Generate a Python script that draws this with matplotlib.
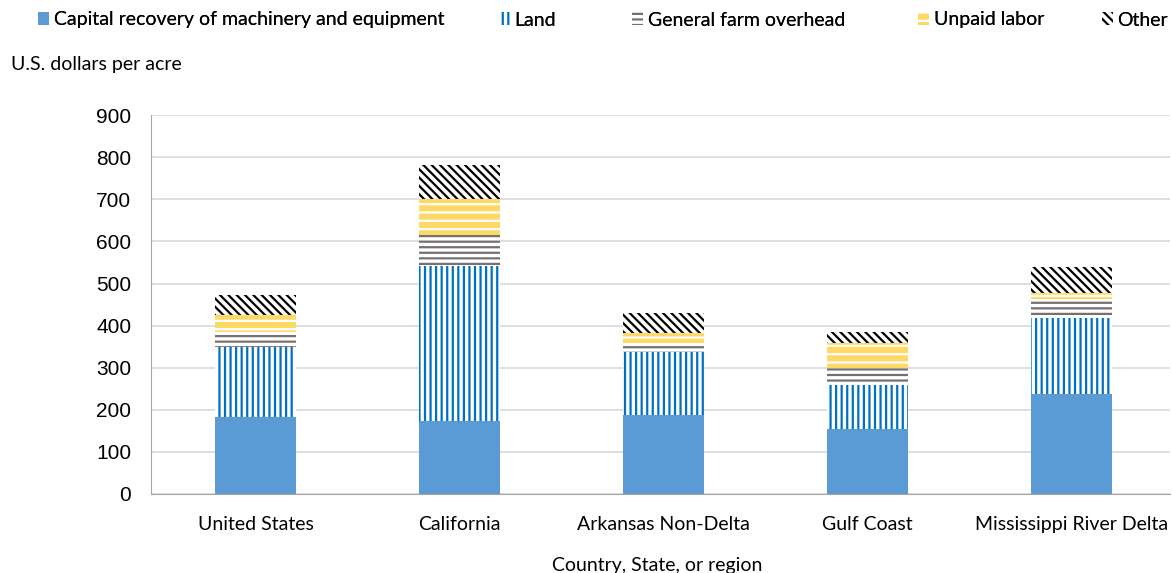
import numpy as np
import matplotlib.pyplot as plt
from matplotlib.patches import Patch

# Cost components, U.S. dollars per acre
regions = ["United States", "California", "Arkansas Non-Delta", "Gulf Coast", "Mississippi River Delta"]
capital = [183, 173, 188, 154, 237]
land = [166, 368, 149, 105, 181]
overhead = [36, 74, 22, 40, 45]
unpaid = [40, 85, 23, 59, 14]
other = [47, 81, 48, 27, 62]

series = [
    ("Capital recovery of machinery and equipment", capital, "#5B9BD5", "#5B9BD5", None),
    ("Land", land, "white", "#0070C0", "|||"),
    ("General farm overhead", overhead, "white", "#767171", "---"),
    ("Unpaid labor", unpaid, "#FFD966", "white", "--"),
    ("Other", other, "white", "black", "\\\\\\\\"),
]

plt.rcParams["hatch.linewidth"] = 1.6
label_font = ["Lato", "DejaVu Sans"]

fig = plt.figure(figsize=(11.72, 5.73), dpi=100)
ax = fig.add_axes([0.1285, 0.138, 0.87, 0.661])

x = np.arange(len(regions))
bottom = np.zeros(len(regions))
handles = []
for name, vals, face, edge, hatch in series:
    ax.bar(x + 0.015, vals, width=0.4, bottom=bottom, color=face, edgecolor=edge,
           hatch=hatch, linewidth=0)
    bottom += np.array(vals)
    handles.append(Patch(facecolor=face, edgecolor=edge, hatch=hatch, linewidth=0, label=name))

ax.set_xlim(-0.5, len(regions) - 0.5)
ax.set_ylim(0, 900)
ax.set_yticks(np.arange(0, 901, 100))
ax.yaxis.grid(True, color="#D9D9D9", linewidth=1.2)
ax.set_axisbelow(True)
ax.tick_params(axis="both", length=0)
ax.tick_params(axis="y", labelsize=15, pad=14)
for lab in ax.get_yticklabels():
    lab.set_family(["Liberation Sans", "DejaVu Sans"])
ax.set_xticks(x + 0.015)
ax.set_xticklabels(regions, fontsize=14, family=label_font)
ax.tick_params(axis="x", pad=16)
for s in ["top", "right"]:
    ax.spines[s].set_visible(False)
for s in ["left", "bottom"]:
    ax.spines[s].set_color("#A6A6A6")

fig.text(0.009, 0.878, "U.S. dollars per acre", fontsize=14, family=label_font)
fig.text(0.561, 0.003, "Country, State, or region", fontsize=14, family=label_font, ha="center")

# one legend per entry so each sits where it does in the original
legend_x = [38, 499, 632, 918, 1102]
for h, lx in zip(handles, legend_x):
    leg = fig.legend(handles=[h], loc="center left", bbox_to_anchor=(lx / 1172, 1 - 20 / 573),
                     frameon=False, prop={"family": label_font, "size": 14}, borderpad=0,
                     borderaxespad=0, handlelength=0.55, handleheight=0.6, handletextpad=0.25)
    fig.add_artist(leg)

fig.savefig("out.png", dpi=100)
